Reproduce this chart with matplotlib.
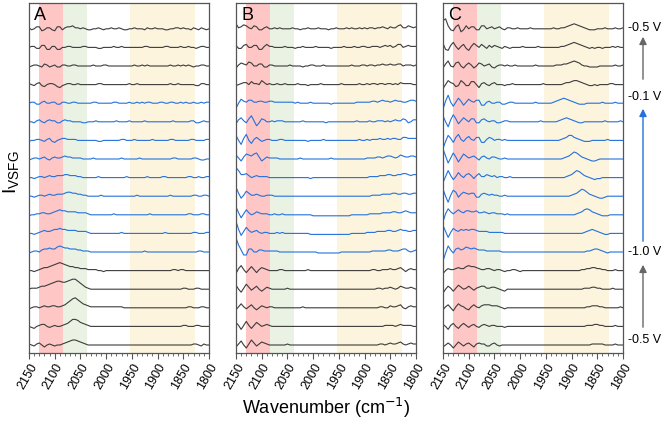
import numpy as np
import matplotlib
matplotlib.use("Agg")
import matplotlib.pyplot as plt
from matplotlib.patches import FancyArrowPatch
from matplotlib.ticker import MultipleLocator

plt.rcParams['font.family'] = ['Liberation Sans', 'DejaVu Sans']

# wavenumber grid (cm-1): 2150 down to 1800, one value every 5 cm-1
wavenumber = np.arange(2150, 1799, -5)

# trace colours top -> bottom: 4 black, 9 blue, 5 black
trace_kind = ['k'] * 4 + ['b'] * 9 + ['k'] * 5
voltage_labels = ['-0.5 V', '-0.1 V', '-1.0 V', '-0.5 V']
panel_names = ['A', 'B', 'C']

# intensities (top trace first, own baseline = 0)
panel_a = [
    [1,-1,0,2,2,-2,-1,1,1,-1, -2,2,2,-1,1,2,2,3,1,1, 0,1,0,-1,-1,0,0,1,0,-1, 0,0,1,0,0,1,0,-1,-1,0, 0,1,0,0,0,-1,1,0,0,1, 0,0,0,-1,-1,0,0,1,1,0, 1,0,0,-1,1,0,-1,1,0,-1, 0],
    [0,1,1,-1,-1,2,2,-2,-2,1, 1,-2,-2,0,0,1,1,0,0,0, 0,1,1,0,0,0,0,-1,-1,0, 0,0,0,1,0,0,1,0,0,0, 0,0,0,0,0,1,1,0,0,0, 0,0,0,1,1,0,0,0,0,1, 0,0,1,0,0,-1,0,1,1,0, 0],
    [-1,0,1,1,0,-1,2,1,-1,0, 1,-1,-1,1,1,0,0,1,1,0, 0,0,0,0,0,1,0,0,0,1, 1,0,0,0,0,0,0,0,0,0, 0,1,0,0,1,0,1,0,0,0, 0,0,0,0,0,1,0,0,1,0, 1,0,1,0,-1,0,0,1,1,0, 0],
    [1,0,-1,1,2,-1,-2,0,1,1, 0,-2,-3,-1,0,1,1,0,0,1, 0,0,0,0,0,0,0,1,1,0, 0,0,0,0,0,0,0,0,0,1, 0,0,1,0,0,0,0,0,0,0, 0,0,0,0,0,1,0,0,1,0, 0,0,0,0,0,-1,-1,1,1,0, 0],
    [0,1,1,-1,-1,1,2,0,0,1, 1,-1,-1,1,1,0,0,1,1,0, 0,0,0,0,0,1,1,0,0,0, 0,0,0,1,1,0,0,0,0,1, 0,0,1,0,1,0,1,1,0,0, 0,1,1,0,0,1,1,0,0,1, 0,1,0,0,1,0,0,1,0,1, 1],
    [0,0,-1,1,2,0,-1,1,2,1, 1,-1,-1,1,2,1,1,0,0,0, 0,-1,-1,0,0,0,1,0,0,0, 0,0,0,0,1,0,0,0,0,1, 0,0,0,0,0,1,0,0,0,0, 0,0,0,0,0,0,1,0,0,0, 0,0,0,1,1,-1,-1,0,1,0, 0],
    [-1,0,0,1,1,0,-1,1,2,-1, -2,0,1,2,2,1,1,1,1,0, 0,0,0,0,0,0,0,-1,-1,0, 0,0,0,0,0,0,1,1,0,0, 0,1,0,0,0,0,0,0,1,0, 0,0,0,0,0,1,1,0,0,0, 0,0,0,1,1,0,0,0,0,1, 1],
    [-1,0,1,1,0,1,2,0,-1,1, 2,1,1,2,3,2,2,1,1,1, 1,0,0,0,0,1,0,0,0,0, 0,0,0,0,0,0,1,0,0,0, 0,0,0,1,0,0,0,0,0,0, 0,0,0,0,0,0,1,1,0,0, 0,0,0,0,1,1,0,-1,-1,0, 0],
    [0,0,-1,0,1,1,0,1,2,1, 1,2,2,2,3,3,2,2,2,1, 1,0,0,0,0,0,0,1,0,0, 0,0,0,0,0,0,0,0,1,0, 0,0,0,0,0,0,1,0,0,0, 0,0,1,1,0,0,0,0,0,0, 0,0,1,1,0,0,1,0,0,1, 1],
    [0,0,-1,0,1,1,0,1,2,1, 1,2,2,2,3,4,4,3,3,2, 2,1,1,0,0,0,0,0,1,0, 0,0,0,0,0,0,0,0,0,0, 0,0,1,0,0,0,0,0,0,0, 0,0,0,0,0,1,0,0,0,0, 0,0,0,0,1,1,0,0,1,1, 0],
    [-1,0,0,1,1,2,2,1,1,2, 3,4,5,4,4,3,3,3,3,2, 2,2,2,1,0,0,0,0,0,0, 0,0,0,1,0,0,0,0,0,0, 0,0,0,0,0,0,0,1,0,0, 0,0,0,0,0,0,0,0,0,0, 0,0,1,1,0,0,0,1,1,0, 0],
    [0,0,-1,0,1,2,3,2,2,3, 4,4,5,4,4,3,3,3,3,2, 2,2,2,1,0,0,0,0,0,0, 0,0,0,0,0,0,1,0,0,0, 0,0,0,0,0,0,0,0,0,0, 0,0,0,1,0,0,0,0,0,0, 0,0,0,0,1,1,0,0,0,1, 1],
    [-1,0,1,1,0,2,3,3,4,3, 3,5,6,5,4,4,3,3,3,2, 2,1,1,1,0,0,0,0,0,0, 0,0,0,0,0,0,0,0,0,0, 0,0,0,0,0,1,0,0,0,0, 0,0,0,0,0,0,0,0,0,0, 0,0,0,0,0,0,1,1,0,0, 0],
    [0,0,-1,0,1,2,3,3,4,5, 6,7,8,7,6,5,4,4,3,3, 2,2,2,1,1,1,1,0,0,-1, 0,0,0,0,0,0,0,0,0,0, 0,0,0,0,0,0,0,0,0,0, 0,0,0,0,0,0,1,1,0,1, 1,0,0,0,0,0,0,0,0,0, 0],
    [0,1,1,1,2,3,3,4,5,6, 7,8,8,7,7,8,9,10,10,8, 6,4,2,1,0,0,0,0,0,0, 0,0,0,0,0,0,0,0,0,0, 0,0,0,0,0,0,0,0,0,0, 0,0,0,0,0,0,0,0,0,0, 1,1,0,0,0,1,1,0,0,0, 0],
    [-1,0,1,1,0,1,2,1,1,2, 2,1,1,2,3,5,7,9,10,8, 6,4,3,2,1,1,1,1,1,1, 1,1,1,1,1,1,1,0,0,0, 0,0,0,0,0,0,0,0,0,0, 0,0,0,0,0,0,0,0,0,0, 0,0,1,1,0,0,0,1,1,0, 0],
    [0,-1,-2,0,1,2,2,0,-1,0, 1,0,0,1,2,3,5,7,7,6, 4,3,2,1,0,0,0,0,0,0, 0,0,0,0,0,0,0,0,0,0, 0,0,0,0,0,0,0,0,0,0, 0,0,0,0,0,0,0,0,0,0, 1,1,0,0,0,1,1,0,0,0, 0],
    [1,0,-1,1,2,0,-2,0,1,0, -1,0,0,1,2,3,4,5,5,4, 3,2,1,0,0,0,0,0,0,0, 0,0,0,0,0,0,0,0,0,0, 0,0,0,0,0,0,0,0,0,0, 0,0,0,0,0,0,0,0,0,0, 0,0,0,0,1,1,0,-1,1,0, 0],
]

panel_b = [
    [5,1,2,4,3,1,0,3,2,-1, -1,1,2,0,0,1,0,1,0,0, 0,0,1,0,0,-1,0,0,1,0, 0,0,1,0,0,0,-1,0,0,1, 0,0,0,1,0,1,0,0,1,0, 1,0,1,1,0,1,1,2,1,0, 2,1,1,3,4,1,1,3,2,1, 2],
    [2,-1,-1,2,3,0,0,2,2,-2, -2,1,3,1,1,0,0,0,0,1, 0,0,0,-1,0,0,1,0,0,0, 0,1,0,0,0,0,0,-1,0,0, 0,0,1,0,0,0,1,0,0,1, 1,0,0,1,1,1,0,1,2,1, 2,0,1,3,3,0,1,2,1,1, 1],
    [-2,1,3,2,1,4,3,0,0,2, 2,-1,-1,1,1,0,0,0,0,0, 0,1,0,0,0,0,-1,0,0,1, 1,0,0,0,1,0,0,0,0,0, 0,0,0,0,0,1,0,0,0,1, 1,0,1,1,0,1,1,2,1,1, 2,1,1,2,2,0,1,1,1,0, 1],
    [-1,0,1,2,2,0,3,1,1,0, 4,2,0,1,0,0,1,0,0,1, 0,0,0,0,1,0,0,0,-1,0, 0,0,0,1,0,0,0,0,0,0, 0,1,0,0,0,0,0,0,1,0, 0,1,0,1,1,0,1,1,0,1, 1,0,1,0,2,1,1,1,1,0, 0],
    [-5,0,4,2,1,3,3,1,1,2, 2,1,1,2,2,1,1,1,1,1, 1,1,1,0,1,0,0,0,0,1, 0,0,0,0,0,0,0,-1,0,0, 0,0,0,0,0,0,0,1,1,1, 1,1,1,2,2,1,2,3,2,2, 1,2,3,2,2,1,1,2,3,3, 2],
    [-2,2,4,1,-1,3,6,1,-4,-1, 3,2,0,0,1,0,1,1,1,0, 0,0,0,0,0,0,1,0,0,0, 0,0,0,0,0,-1,0,0,0,0, 0,0,0,0,0,0,0,1,0,0, 0,0,1,0,0,1,1,1,0,1, 0,1,2,1,1,3,2,-1,0,2, 2],
    [5,0,-4,2,6,0,-3,1,3,1, -1,0,1,1,0,0,0,1,1,0, 0,0,0,0,0,0,0,0,-1,0, 0,0,0,0,1,0,0,0,0,0, 0,0,0,0,0,0,0,0,1,0, 0,1,0,1,1,1,2,1,1,2, 1,2,2,1,1,3,3,2,2,2, 2],
    [4,1,-2,2,5,4,3,5,6,2, -2,0,2,1,1,1,1,0,0,0, 0,0,0,0,0,1,0,0,0,0, 0,0,0,0,0,0,0,1,0,0, 0,0,0,0,0,0,0,0,0,0, 0,1,1,1,1,2,2,1,2,3, 3,2,1,2,4,3,2,2,3,3, 2],
    [10,7,3,3,4,2,0,1,2,1, 1,1,1,0,0,0,0,0,0,0, 0,0,0,0,0,0,0,0,0,-1, 0,0,0,0,0,0,0,0,0,0, 0,0,0,0,0,0,0,0,0,0, 0,0,1,1,1,1,2,2,2,3, 3,2,2,3,3,4,4,3,2,3, 3],
    [9,3,-2,1,5,3,1,1,2,1, 0,0,1,1,1,0,0,0,0,0, 0,0,0,0,0,0,0,0,0,0, 0,0,0,0,0,0,0,0,0,0, 0,0,0,0,0,0,0,0,0,0, 0,0,0,1,1,1,1,2,2,2, 2,3,3,2,2,3,3,2,2,3, 3],
    [8,2,-3,1,5,2,0,1,3,2, 1,1,1,0,0,1,0,0,1,0, 0,0,0,0,0,0,0,0,0,0, -1,-1,-1,-1,-1,-1,-1,-1,-1,-1, -1,-1,-1,-1,-1,0,0,0,0,0, 0,0,1,1,1,1,1,2,2,2, 2,3,3,2,2,3,4,3,2,2, 2],
    [12,4,-2,2,6,3,1,2,3,1, 0,1,1,0,0,0,1,0,1,0, 0,0,0,0,0,0,0,0,0,-1, -1,-1,-1,-1,-1,-1,-1,-1,-1,-1, -1,-1,-1,-1,-1,0,0,0,0,0, 0,1,1,1,1,2,2,2,2,3, 3,2,2,3,4,3,3,2,2,3, 3],
    [14,7,2,-3,-3,3,3,0,0,2, 2,1,1,1,1,1,1,0,0,0, 0,0,0,0,0,0,0,0,0,0, 0,0,-1,-1,-1,-1,-1,-1,-1,-1, -1,0,0,0,0,0,0,0,0,0, 0,0,0,1,1,1,1,1,1,2, 2,1,1,1,2,3,3,1,0,1, 2],
    [-3,2,5,1,-2,1,4,1,-2,1, 3,2,1,0,0,0,0,1,1,0, 0,0,0,0,0,0,0,0,1,0, 0,0,0,0,0,0,0,0,0,0, 0,0,0,0,0,0,0,0,0,0, 0,0,0,1,1,0,0,1,1,1, 2,1,1,2,3,1,-1,1,2,1, 1],
    [4,0,-3,1,5,2,-1,1,3,0, -2,0,2,1,0,0,0,0,0,0, 1,0,0,0,0,0,0,0,0,0, 0,0,0,0,0,0,0,0,0,0, 0,0,0,0,0,0,0,0,0,0, 0,0,0,0,0,1,1,0,1,1, 2,1,0,1,3,2,1,1,2,1, 0],
    [-2,1,4,1,-1,1,3,0,-2,0, 2,1,0,1,1,0,0,0,0,0, 0,0,0,0,0,0,1,0,0,0, 0,0,0,0,0,0,0,0,0,0, 0,0,0,0,0,0,0,0,0,0, 0,0,0,0,0,0,1,1,0,0, 2,1,1,2,3,0,-1,1,2,1, 1],
    [4,1,-3,1,5,1,-2,1,4,2, 0,1,2,1,0,0,0,0,0,0, 0,0,0,0,0,0,0,0,0,0, 0,0,0,0,0,0,0,0,0,0, 0,0,0,0,0,0,0,0,0,0, 0,0,0,0,0,0,0,0,1,1, 1,1,0,1,2,1,1,1,1,0, 0],
    [-2,1,4,0,-3,1,5,2,-1,1, 3,2,1,0,0,0,0,0,0,0, 1,0,0,0,0,0,0,0,0,0, 0,0,0,0,0,0,0,0,0,0, 0,0,0,0,0,0,0,0,0,0, 0,0,0,0,0,0,1,1,0,1, 2,1,1,2,3,1,0,1,2,1, 1],
]

panel_c = [
    [8,10,3,-1,-2,2,4,-3,-1,3, 0,2,2,-1,-1,3,3,0,1,2, 0,1,2,0,-1,1,1,0,0,1, 0,0,0,0,1,0,0,0,0,0, 0,0,0,1,0,0,1,1,2,3, 4,5,4,3,2,1,0,-1,-1,-1, 0,0,0,1,0,0,0,1,0,0, 1],
    [4,-2,-3,2,5,1,-2,1,3,-1, -3,1,4,2,0,3,1,-1,2,0, 2,1,0,-1,1,0,-1,0,0,0, 0,1,0,0,0,0,0,1,0,0, 0,0,0,0,0,0,1,1,2,3, 4,5,4,3,2,1,0,-1,0,-1, 0,0,-1,0,0,0,1,0,1,0, 0],
    [-2,2,5,0,-1,3,4,0,-2,1, 3,1,-2,0,3,2,0,1,2,-1, -2,0,1,1,0,1,0,0,1,0, 0,0,0,0,0,0,1,0,0,0, 0,0,0,0,1,1,1,2,2,3, 4,5,4,3,1,0,0,-1,-1,-1, -1,0,0,0,0,0,0,1,0,0, 1],
    [-4,0,4,2,1,-2,-1,4,2,-1, -1,3,3,0,-3,1,2,0,-1,1, 2,0,0,0,-1,0,0,1,0,0, 0,0,0,0,0,0,0,0,0,1, 0,0,0,0,0,0,0,1,2,2, 3,4,4,3,2,1,0,-1,-1,0, -1,0,0,0,0,1,1,0,0,0, 0],
    [-6,2,8,1,-3,1,5,2,-2,1, 4,2,1,3,3,-2,-2,1,2,0, 0,1,1,-1,-1,0,1,1,0,0, 0,0,0,0,0,0,1,0,0,0, 0,0,0,1,2,3,4,5,4,3, 2,1,0,-1,-1,-1,0,0,0,0, 0,0,1,0,0,0,0,1,0,0, 0],
    [6,0,-5,2,7,3,-2,1,4,2, 0,3,3,-1,-1,2,3,1,0,1, 1,-1,-1,0,1,1,0,0,0,0, 0,0,0,0,0,0,0,0,1,0, 0,0,0,0,0,1,2,3,4,3, 2,1,0,-1,-1,0,0,0,0,0, 0,0,0,1,0,0,0,0,0,1, 0],
    [-8,-1,5,2,-2,3,6,1,-1,2, 4,1,0,3,3,-2,-2,1,3,2, 0,1,1,0,1,0,0,0,0,0, 0,0,0,0,0,0,0,0,0,0, 0,0,0,0,0,0,1,2,3,5, 5,3,2,1,0,-1,-1,-1,0,0, 0,0,0,0,1,0,0,0,0,0, 0],
    [10,3,-4,1,6,2,-3,1,5,3, 1,2,3,1,-1,2,3,1,0,2, 2,1,0,0,1,0,0,0,0,0, 0,0,0,0,0,0,0,0,0,0, 0,0,0,0,0,0,0,1,2,3, 5,7,6,4,2,1,0,-1,-2,-2, -1,0,0,0,0,0,0,0,0,0, 0],
    [-5,1,7,2,-2,1,5,2,0,3, 4,2,-1,2,4,1,1,3,2,1, 2,0,1,1,0,0,1,0,0,0, 0,0,0,0,0,0,0,0,0,0, 0,0,0,0,0,0,0,0,1,2, 3,5,7,6,4,2,1,0,-1,-2, -1,-1,0,0,0,0,0,0,0,0, 0],
    [7,0,-6,1,6,4,-1,2,4,3, 2,3,3,-1,-1,2,3,2,1,2, 1,1,0,0,1,0,0,0,0,0, 0,0,0,0,0,0,0,0,0,0, 0,0,0,0,0,0,0,0,0,0, 1,2,3,5,7,6,4,2,1,0, -1,-2,-2,-1,0,0,0,0,0,0, 0],
    [-7,1,6,3,1,3,5,3,2,4, 4,3,3,4,2,2,3,2,1,2, 2,1,1,1,0,1,0,0,0,0, 0,0,0,0,0,0,0,0,0,0, 0,0,0,0,0,0,0,0,0,0, 0,0,1,2,3,5,6,5,3,2, 1,0,-1,-1,-1,0,0,0,0,0, 0],
    [8,2,-4,1,5,3,2,4,3,4, 3,4,4,3,2,2,2,2,1,1, 1,1,1,1,0,0,0,0,0,0, 0,0,0,0,0,0,0,0,0,0, 0,0,0,0,0,0,0,0,0,0, 0,0,0,0,0,1,2,3,4,3, 2,1,0,-1,-1,0,0,0,0,0, 0],
    [-9,-1,6,2,-1,3,4,2,3,5, 4,3,4,3,2,2,2,1,1,1, 1,1,1,0,0,0,0,0,0,0, 0,0,0,0,0,0,0,0,0,0, 0,0,0,0,0,0,0,0,0,0, 0,0,0,0,0,0,1,1,2,3, 3,2,1,0,-1,0,0,0,0,0, 0],
    [-3,0,2,1,1,2,3,2,2,4, 5,4,4,3,2,1,1,2,2,1, 0,1,1,0,-1,0,0,1,1,0, -1,0,0,0,0,0,0,0,0,0, 0,0,0,0,0,0,0,0,0,0, 0,0,0,0,1,1,2,2,3,3, 2,2,1,1,0,0,0,1,0,0, 0],
    [-4,0,3,1,-2,1,4,2,0,1, 3,1,-1,1,2,3,3,1,1,2, 2,1,0,-1,-2,0,0,0,0,0, 0,0,0,0,0,0,0,0,0,0, 0,0,0,0,0,0,0,0,0,0, 0,0,0,0,0,1,1,1,2,2, 1,1,0,0,0,0,1,0,0,0, 0],
    [-2,1,3,0,-3,1,4,2,1,-1, -2,1,3,1,0,2,3,3,3,2, 2,2,1,0,-1,0,0,0,0,0, 0,0,0,0,0,0,0,0,0,0, 0,0,0,0,0,0,0,0,0,0, 0,0,0,0,0,0,1,1,2,2, 2,1,1,0,0,0,0,0,0,1, 0],
    [2,0,-3,1,3,0,-2,1,3,1, -1,1,2,0,-1,1,2,1,0,1, 1,0,0,0,-1,0,0,0,0,0, 0,0,0,0,0,0,0,0,0,0, 0,0,0,0,0,0,0,0,0,0, 0,0,0,0,0,0,1,1,1,2, 2,1,1,0,0,0,0,1,0,0, 0],
    [-2,0,2,0,-3,0,3,1,-1,1, 2,0,-2,1,2,1,1,-1,-1,1, 2,0,-1,0,0,0,0,0,0,0, 0,0,0,0,0,0,0,0,0,0, 0,0,0,0,0,0,0,0,0,0, 0,0,0,0,0,0,0,0,1,1, 1,1,1,0,0,0,0,1,0,0, 0],
]

# shaded bands (cm-1)
red_band = (2130, 2084)
green_band = (2084, 2037)
yellow_band = (1953, 1827)

black = "#3c3c3c"
blue = "#2271dc"
spacing = 18.6

fig = plt.figure(figsize=(6.61, 4.21), dpi=100)
W, H = 661.0, 421.0
lefts = [29, 236, 443]
for k, (data, name) in enumerate(zip([panel_a, panel_b, panel_c], panel_names)):
    ax = fig.add_axes([lefts[k] / W, 1 - 353 / H, 180 / W, 350 / H])
    ax.axvspan(*red_band, color="#ffc6c6", lw=0, zorder=0)
    ax.axvspan(*green_band, color="#eaf2e4", lw=0, zorder=0)
    ax.axvspan(*yellow_band, color="#fdf4de", lw=0, zorder=0)
    n = len(data)
    for r, row in enumerate(data):
        col = black if trace_kind[r] == 'k' else blue
        ax.plot(wavenumber, np.array(row) + (n - 1 - r) * spacing, color=col, lw=0.8)
    ax.set_xlim(2150, 1800)
    ax.set_ylim(-8, 342)
    ax.set_yticks([])
    ax.xaxis.set_major_locator(MultipleLocator(50))
    ax.xaxis.set_minor_locator(MultipleLocator(10))
    ax.tick_params(axis='x', which='major', direction='out', length=4, width=0.8,
                   labelsize=9, colors='#555555', labelcolor='black', pad=2)
    ax.tick_params(axis='x', which='minor', direction='out', length=2, width=0.6, colors='#555555')
    for lab in ax.get_xticklabels():
        lab.set_rotation(60)
        lab.set_ha('right')
        lab.set_rotation_mode('anchor')
    for s in ax.spines.values():
        s.set_color('#555555')
        s.set_linewidth(0.9)
    ax.text(0.03, 0.99, name, transform=ax.transAxes, fontsize=13, va='top', ha='left')

fig.text(326 / W, 1 - 408 / H, "Wavenumber (cm$^{-1}$)", ha='center', va='center', fontsize=13)
fig.text(12 / W, 1 - 172 / H, "I$_{\\mathregular{VSFG}}$", ha='center', va='center',
         rotation=90, fontsize=14)

label_y = [28, 97, 252, 340]
for lab, yy in zip(voltage_labels, label_y):
    fig.text(628 / W, 1 - yy / H, lab, ha='left', va='center', fontsize=9)

arrows = [((643, 82), (643, 34), "#666666"),
          ((643, 244), (643, 106), blue),
          ((643, 330), (643, 262), "#666666")]
for (x0, y0), (x1, y1), c in arrows:
    fig.add_artist(FancyArrowPatch(
        (x0 / W, 1 - y0 / H), (x1 / W, 1 - y1 / H), transform=fig.transFigure,
        arrowstyle='-|>', mutation_scale=11, color=c, lw=1.0))

fig.savefig("out.png", dpi=100)
